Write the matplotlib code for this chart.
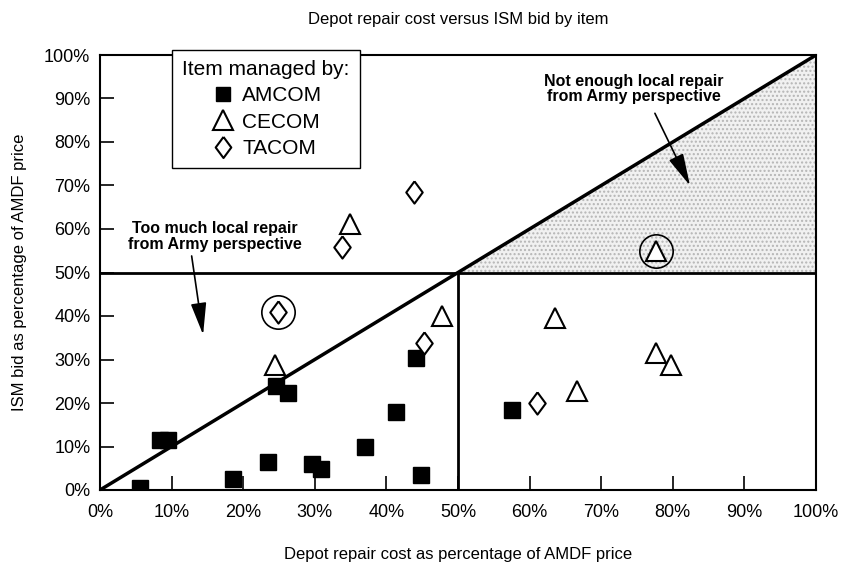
import matplotlib
matplotlib.use("Agg")
import matplotlib.pyplot as plt
from matplotlib.ticker import FuncFormatter

plt.rcParams['font.family'] = ['Liberation Sans', 'DejaVu Sans']

# Data (percent of AMDF price)
amcom_x = [5.6, 8.4, 9.5, 18.6, 23.5, 29.6, 30.9, 37.0, 41.3, 44.9, 24.6, 26.2, 44.2, 57.6]
amcom_y = [0.5, 11.4, 11.4, 2.5, 6.4, 5.9, 4.9, 10.0, 18.0, 3.5, 23.9, 22.4, 30.3, 18.4]
cecom_x = [24.5, 47.8, 34.9, 77.7, 63.6, 77.7, 79.8, 66.6]
cecom_y = [28.8, 40.0, 61.2, 55.0, 39.6, 31.5, 28.8, 22.8]
tacom_x = [24.9, 45.2, 43.9, 33.8, 61.0]
tacom_y = [40.9, 33.9, 68.4, 55.9, 19.9]
circled_x = [77.7, 24.9]
circled_y = [55.0, 40.9]
ticks = [0, 10, 20, 30, 40, 50, 60, 70, 80, 90, 100]

diamond = [(0, 1), (0.74, 0), (0, -1), (-0.74, 0), (0, 1)]

fig = plt.figure(figsize=(8.43, 5.69), dpi=100)
ax = fig.add_axes([100/843, 1-490/569, 716/843, 435/569])
ax.set_xlim(0, 100)
ax.set_ylim(0, 100)

# shaded region
ax.fill([50, 100, 100], [50, 100, 50], facecolor='#f1f1f1', edgecolor='#b5b5b5',
        hatch='....', linewidth=0, zorder=0)

# reference lines
ax.plot([0, 100], [0, 100], color='black', lw=2.5, zorder=2)
ax.plot([0, 100], [50, 50], color='black', lw=2.0, zorder=2)
ax.plot([50, 50], [0, 50], color='black', lw=2.0, zorder=2)

ax.plot(amcom_x, amcom_y, 's', ms=11, color='black', zorder=4, label='AMCOM')
ax.plot(cecom_x, cecom_y, '^', ms=15, mfc='white', mec='black', mew=1.5, zorder=4, label='CECOM')
ax.plot(tacom_x, tacom_y, marker=diamond, ls='none', ms=16, mfc='white', mec='black', mew=1.5,
        zorder=4, label='TACOM')
ax.plot(circled_x, circled_y, 'o', ms=24, mfc='none', mec='black', mew=1.2, zorder=3)

ax.set_xticks(ticks)
ax.set_yticks(ticks)
fmt = FuncFormatter(lambda v, p: f"{int(v)}%")
ax.xaxis.set_major_formatter(fmt)
ax.yaxis.set_major_formatter(fmt)
ax.tick_params(direction='in', length=10, width=1.2, labelsize=13)
ax.tick_params(axis='x', pad=10)
ax.tick_params(axis='y', pad=7)
for s in ax.spines.values():
    s.set_linewidth(1.5)

ax.set_xlabel('Depot repair cost as percentage of AMDF price', fontsize=12, labelpad=19)
ax.set_ylabel('ISM bid as percentage of AMDF price', fontsize=12, labelpad=12)
ax.set_title('Depot repair cost versus ISM bid by item', fontsize=12, pad=22)

leg = ax.legend(title='Item managed by:', loc='upper left', bbox_to_anchor=(0.1, 1.012),
                borderaxespad=0, fontsize=15, title_fontsize=15, frameon=True, fancybox=False,
                edgecolor='black', framealpha=1, handletextpad=0.3, handlelength=1.3,
                borderpad=0.5, labelspacing=0.35, markerscale=0.95)
leg.get_frame().set_linewidth(1.0)
leg.set_zorder(6)

ax.text(16.1, 58.3, 'Too much local repair\nfrom Army perspective', ha='center', va='center',
        fontsize=11.5, fontweight='bold', linespacing=1.05)
ax.annotate('', xy=(14.4, 35.7), xytext=(12.8, 53.8),
            arrowprops=dict(arrowstyle='-|>,head_length=0.9,head_width=0.22', color='black',
                            lw=1.2, mutation_scale=22, shrinkA=0, shrinkB=0))
ax.text(74.5, 92.2, 'Not enough local repair\nfrom Army perspective', ha='center', va='center',
        fontsize=11.5, fontweight='bold', linespacing=1.05)
ax.annotate('', xy=(82.4, 70.0), xytext=(77.5, 86.6),
            arrowprops=dict(arrowstyle='-|>,head_length=0.9,head_width=0.22', color='black',
                            lw=1.2, mutation_scale=22, shrinkA=0, shrinkB=0))

fig.savefig('out.png', dpi=100)
